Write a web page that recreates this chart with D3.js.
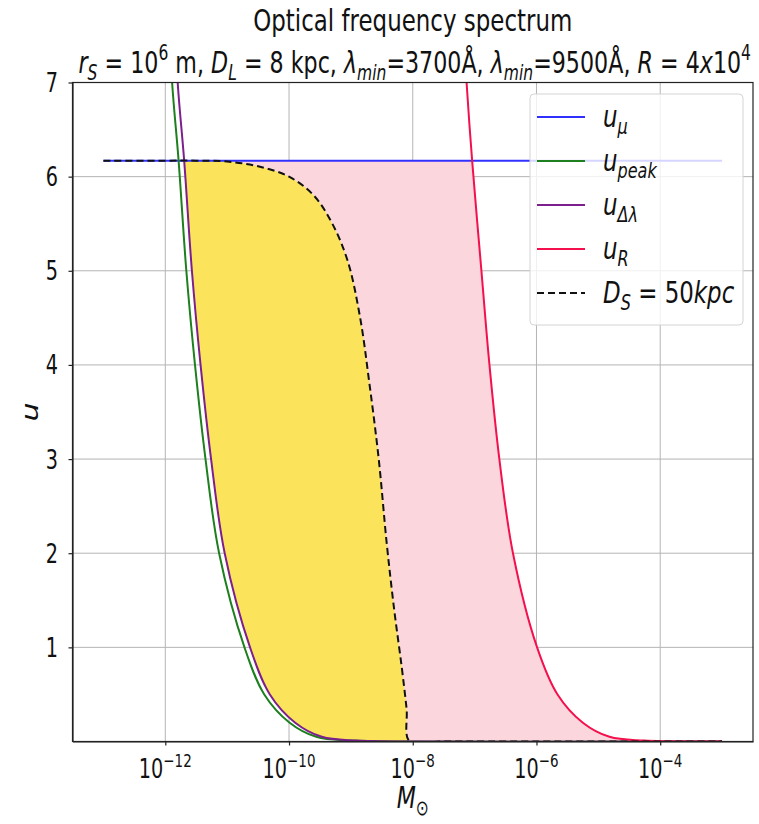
<!DOCTYPE html>
<html>
<head>
<meta charset="utf-8">
<script src="https://cdn.jsdelivr.net/npm/d3@7"></script>
<style>
  body { margin: 0; background: #ffffff; }
  text { font-family: "DejaVu Sans", sans-serif; fill: #111; }
</style>
</head>
<body>
<svg id="chart" width="759" height="824"></svg>
<script>
// ---- data: log10 of mass (solar masses) and impact parameter u for each curve ----
const uMu = 6.17;                       // u_mu threshold (horizontal line)
const muLogM = [-13, -3];

const peakLogM = [-12.0, -11.89, -11.785, -11.66, -11.52, -11.35, -11.13, -10.72, -10.40, -9.99, -9.56, -9.0, -8.0, -3.0];
const peakU    = [8.4, 7.0, 6.17, 5.0, 4.0, 3.0, 2.0, 1.0, 0.5, 0.2, 0.05, 0.01, 0.0, 0.0];

const dlamLogM = [-11.91, -11.80, -11.695, -11.57, -11.43, -11.26, -11.04, -10.63, -10.31, -9.90, -9.47, -8.91, -7.91, -3.0];
const dlamU    = [8.4, 7.0, 6.17, 5.0, 4.0, 3.0, 2.0, 1.0, 0.5, 0.2, 0.05, 0.01, 0.0, 0.0];

const resLogM  = [-7.25, -7.13, -7.04, -6.89, -6.76, -6.60, -6.38, -5.99, -5.66, -5.25, -4.82, -4.26, -3.3, -3.0];
const resU     = [8.4, 7.0, 6.17, 5.0, 4.0, 3.0, 2.0, 1.0, 0.5, 0.2, 0.05, 0.01, 0.0, 0.0];

const dsLogM   = [-13.0, -12.0, -11.5, -11.0, -10.5, -10.0, -9.6, -9.3, -9.05, -8.85, -8.7, -8.55, -8.42, -8.3, -8.18, -8.1, -8.05, -7.5, -3.0];
const dsU      = [6.17, 6.17, 6.17, 6.16, 6.11, 6.0, 5.8, 5.5, 5.1, 4.5, 3.8, 3.0, 2.1, 1.4, 0.8, 0.35, 0.0, 0.0, 0.0];

const xTickExps = [-12, -10, -8, -6, -4];
const yTicks = [1, 2, 3, 4, 5, 6, 7];

const legendItems = [
  { key: "mu",   color: "#3030ff", dash: null,  parts: [{t: "u", i: true}, {t: "\u03bc", i: true, sub: true}] },
  { key: "peak", color: "#1d7f1d", dash: null,  parts: [{t: "u", i: true}, {t: "peak", i: true, sub: true}] },
  { key: "dlam", color: "#7d1f8d", dash: null,  parts: [{t: "u", i: true}, {t: "\u0394\u03bb", i: true, sub: true}] },
  { key: "res",  color: "#f3104c", dash: null,  parts: [{t: "u", i: true}, {t: "R", i: true, sub: true}] },
  { key: "ds",   color: "#111111", dash: "7,4", parts: [{t: "D", i: true}, {t: "S", i: true, sub: true}, {t: " = 50"}, {t: "kpc", i: true}] }
];

// ---- layout ----
const svg = d3.select("#chart");
const P = { left: 72.5, right: 753, top: 82.5, bottom: 741.5 };
const SX = 0.74;   // horizontal squeeze of all text

const x = d3.scaleLog()
  .domain([Math.pow(10, -13.5), Math.pow(10, -2.5)])
  .range([P.left, P.right]);
const y = d3.scaleLinear().domain([0, 7]).range([P.bottom, P.top]);

const pts = (lm, u) => lm.map((d, i) => [Math.pow(10, d), u[i]]);
const peakPts = pts(peakLogM, peakU);
const dlamPts = pts(dlamLogM, dlamU);
const resPts  = pts(resLogM, resU);
const dsPts   = pts(dsLogM, dsU);
const muPts   = pts(muLogM, [uMu, uMu]);

const curve = d3.curveCatmullRom.alpha(0.5);
const line = d3.line().x(d => x(d[0])).y(d => y(d[1])).curve(curve);

// rich text helper: parts = [{t, i(talic), sub, sup}]
function rich(g, px, py, anchor, size, parts, rotate) {
  const tf = rotate
    ? `translate(${px},${py}) rotate(-90) scale(1,${SX})`
    : `translate(${px},${py}) scale(${SX},1)`;
  const t = g.append("text").attr("transform", tf)
    .attr("text-anchor", anchor).style("font-size", size + "px");
  let shift = 0;
  parts.forEach(p => {
    const target = p.sub ? 0.22 * size : (p.sup ? -0.42 * size : 0);
    const ts = t.append("tspan").text(p.t).attr("dy", target - shift);
    if (p.i) ts.style("font-style", "italic");
    if (p.sub || p.sup) ts.style("font-size", (size * 0.7) + "px");
    shift = target;
  });
  return t;
}

const defs = svg.append("defs");
defs.append("clipPath").attr("id", "plotClip").append("rect")
  .attr("x", P.left).attr("y", P.top).attr("width", P.right - P.left).attr("height", P.bottom - P.top);
defs.append("clipPath").attr("id", "belowMu").append("rect")
  .attr("x", P.left).attr("y", y(uMu)).attr("width", P.right - P.left).attr("height", P.bottom - y(uMu));

// region to the right of (above) the u_dlambda curve
const dlamPath = line(dlamPts) +
  `L${P.right},${y(dlamU[dlamU.length - 1])}L${P.right},0L${x(dlamPts[0][0])},0Z`;
defs.append("clipPath").attr("id", "abovePurple").append("path").attr("d", dlamPath);

// ---- grid ----
const grid = svg.append("g");
grid.selectAll(".gx").data(xTickExps).join("line")
  .attr("x1", d => x(Math.pow(10, d))).attr("x2", d => x(Math.pow(10, d)))
  .attr("y1", P.top).attr("y2", P.bottom)
  .attr("stroke", "#b4b4b4").attr("stroke-width", 1);
grid.selectAll(".gy").data(yTicks).join("line")
  .attr("x1", P.left).attr("x2", P.right)
  .attr("y1", d => y(d)).attr("y2", d => y(d))
  .attr("stroke", "#b4b4b4").attr("stroke-width", 1);

// ---- filled regions ----
const plotG = svg.append("g").attr("clip-path", "url(#plotClip)");

// pink: left of / below the u_R curve, below u_mu, right of u_dlambda
const resRegion = line(resPts) +
  `L${P.right},${y(0)}L${P.left},${y(0)}L${P.left},${P.top - 50}L${x(resPts[0][0])},${P.top - 50}Z`;
plotG.append("g").attr("clip-path", "url(#belowMu)")
  .append("path").attr("d", resRegion)
  .attr("clip-path", "url(#abovePurple)")
  .attr("fill", "#fbd6dd");

// yellow: under the D_S curve, right of u_dlambda
const dsArea = d3.area().x(d => x(d[0])).y0(y(0)).y1(d => y(d[1])).curve(curve);
plotG.append("path").attr("d", dsArea(dsPts))
  .attr("clip-path", "url(#abovePurple)")
  .attr("fill", "#fbe45c");

// ---- curves ----
plotG.append("path").attr("d", line(muPts)).attr("fill", "none").attr("stroke", legendItems[0].color).attr("stroke-width", 2);
plotG.append("path").attr("d", line(peakPts)).attr("fill", "none").attr("stroke", legendItems[1].color).attr("stroke-width", 2);
plotG.append("path").attr("d", line(dlamPts)).attr("fill", "none").attr("stroke", legendItems[2].color).attr("stroke-width", 2);
plotG.append("path").attr("d", line(resPts)).attr("fill", "none").attr("stroke", legendItems[3].color).attr("stroke-width", 2);
plotG.append("path").attr("d", line(dsPts)).attr("fill", "none").attr("stroke", legendItems[4].color)
  .attr("stroke-width", 2).attr("stroke-dasharray", legendItems[4].dash);

// ---- axes ----
const xAxis = d3.axisBottom(x).tickValues(xTickExps.map(e => Math.pow(10, e)))
  .tickSizeInner(4).tickSizeOuter(0).tickFormat("");
const yAxis = d3.axisLeft(y).tickValues(yTicks).tickSizeInner(4).tickSizeOuter(0).tickFormat("");
svg.append("g").attr("transform", `translate(0,${P.bottom})`).call(xAxis)
  .call(g => g.selectAll("path,line").attr("stroke", "#222").attr("stroke-width", 1.2));
svg.append("g").attr("transform", `translate(${P.left},0)`).call(yAxis)
  .call(g => g.selectAll("path,line").attr("stroke", "#222").attr("stroke-width", 1.2));
svg.append("rect").attr("x", P.left).attr("y", P.top)
  .attr("width", P.right - P.left).attr("height", P.bottom - P.top)
  .attr("fill", "none").attr("stroke", "#222").attr("stroke-width", 1.2);

const labels = svg.append("g");
xTickExps.forEach(e => {
  rich(labels, x(Math.pow(10, e)), 778, "middle", 26,
    [{t: "10"}, {t: "\u2212" + Math.abs(e), sup: true}]);
});
yTicks.forEach(v => {
  rich(labels, 58, y(v) + 9.5, "end", 26, [{t: String(v)}]);
});

// axis titles
rich(labels, 38, (P.top + P.bottom) / 2, "middle", 30, [{t: "u", i: true}], true);
rich(labels, (P.left + P.right) / 2, 808, "middle", 30, [{t: "M", i: true}, {t: "\u2299", sub: true}]);

// titles
rich(labels, (P.left + P.right) / 2, 31, "middle", 31, [{t: "Optical frequency spectrum"}]);
rich(labels, (P.left + P.right) / 2 + 2, 73, "middle", 30, [
  {t: "r", i: true}, {t: "S", i: true, sub: true}, {t: " = 10"}, {t: "6", sup: true}, {t: " m, "},
  {t: "D", i: true}, {t: "L", i: true, sub: true}, {t: " = 8 kpc, "},
  {t: "\u03bb", i: true}, {t: "min", i: true, sub: true}, {t: "=3700\u00c5, "},
  {t: "\u03bb", i: true}, {t: "min", i: true, sub: true}, {t: "=9500\u00c5, "},
  {t: "R", i: true}, {t: " = 4"}, {t: "x", i: true}, {t: "10"}, {t: "4", sup: true}
]);

// ---- legend ----
const lg = svg.append("g");
lg.append("rect").attr("x", 530).attr("y", 94).attr("width", 213).attr("height", 231)
  .attr("rx", 4).attr("fill", "#ffffff").attr("fill-opacity", 0.8)
  .attr("stroke", "#d4d4d4").attr("stroke-width", 1);
legendItems.forEach((it, i) => {
  const ly = 117 + i * 44;
  lg.append("line").attr("x1", 537).attr("x2", 585).attr("y1", ly).attr("y2", ly)
    .attr("stroke", it.color).attr("stroke-width", 2)
    .attr("stroke-dasharray", it.dash);
  rich(lg, 603, ly + 10, "start", 31, it.parts);
});
</script>
</body>
</html>
